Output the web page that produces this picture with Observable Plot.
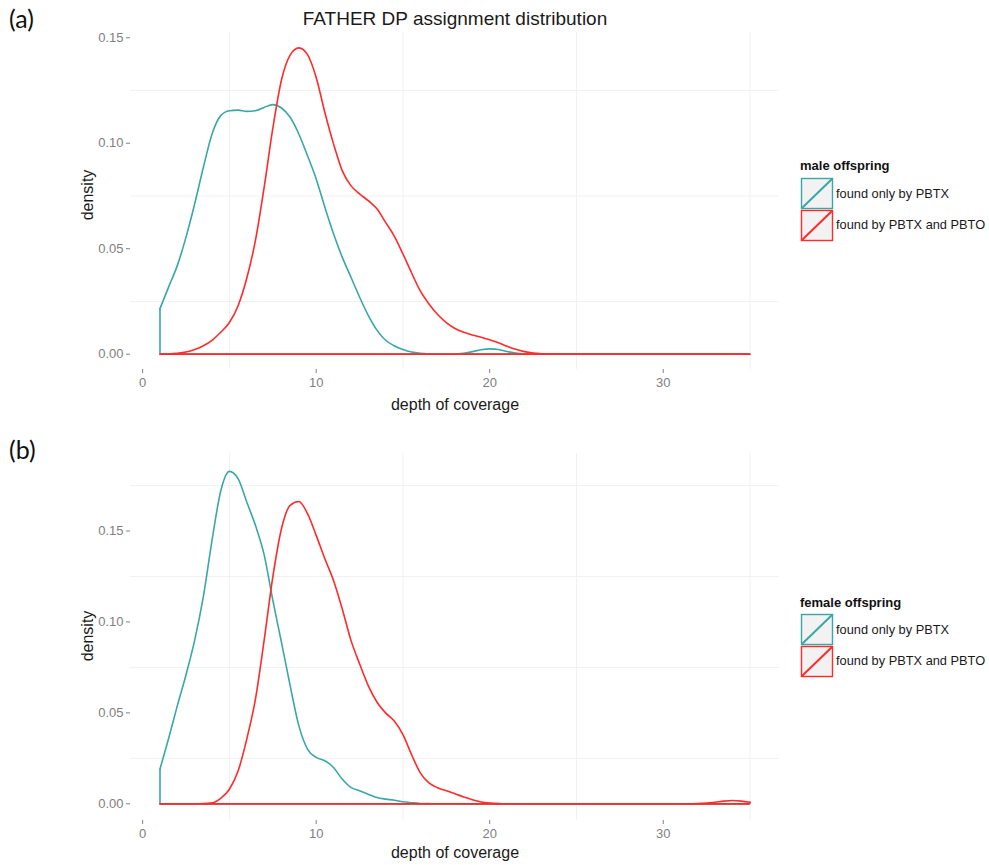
<!DOCTYPE html>
<html><head><meta charset="utf-8">
<script src="https://cdn.jsdelivr.net/npm/d3@7"></script>
<script src="https://cdn.jsdelivr.net/npm/@observablehq/plot@0.6"></script>
<style>
body{margin:0;background:#fff;font-family:"Liberation Sans",Arial,sans-serif;}
#root{position:relative;width:989px;height:865px;overflow:hidden;background:#fff;}
.abs{position:absolute;white-space:nowrap;line-height:1;}
.panel{position:absolute;left:0;}
.tag{font-family:Lato,"Open Sans",sans-serif;font-size:25px;color:#111;}
.title{font-size:19px;color:#1a1a1a;transform:translate(-50%,-50%);}
.axt{font-size:16px;color:#1a1a1a;transform:translate(-50%,-50%);}
.axy{font-size:16px;color:#1a1a1a;transform:translate(-50%,-50%) rotate(-90deg);}
.lt{font-size:13px;font-weight:bold;color:#111;transform:translateY(-50%);}
.ll{font-size:12.8px;color:#1a1a1a;transform:translateY(-50%);}
</style></head><body><div id="root"></div>
<script>
// ---- data ----
const depth = [1,1.5,2,2.5,3,3.5,4,4.5,5,5.5,6,6.5,7,7.5,8,8.5,9,9.5,10,10.5,11,11.5,12,12.5,13,13.5,14,14.5,15,15.5,16,16.5,17,17.5,18,18.5,19,19.5,20,20.5,21,21.5,22,22.5,23,23.5,24,24.5,25,25.5,26,26.5,27,27.5,28,28.5,29,29.5,30,30.5,31,31.5,32,32.5,33,33.5,34,34.5,35];

const maleOnly = [0.0216,0.0319,0.0421,0.0555,0.0713,0.0886,0.1044,0.1131,0.1154,0.1157,0.1151,0.1154,0.1170,0.1183,0.1167,0.1123,0.1044,0.0941,0.0831,0.0697,0.0571,0.0460,0.0366,0.0271,0.0184,0.0114,0.0066,0.0040,0.0022,0.0010,0.0004,0.0001,0,0,0.0001,0.0004,0.0012,0.0021,0.0025,0.0022,0.0013,0.0005,0.0001,0,0,0,0,0,0,0,0,0,0,0,0,0,0,0,0,0,0,0,0,0,0,0,0,0,0];

const maleBoth = [0,0.0001,0.0004,0.0010,0.0022,0.0040,0.0066,0.0104,0.0150,0.0230,0.0360,0.0540,0.0790,0.1070,0.1300,0.1418,0.1452,0.1420,0.1312,0.1146,0.0997,0.0870,0.0799,0.0760,0.0728,0.0689,0.0625,0.0560,0.0475,0.0385,0.0300,0.0238,0.0188,0.0150,0.0122,0.0104,0.0091,0.0080,0.0068,0.0054,0.0038,0.0023,0.0012,0.0005,0.0002,0.0001,0,0,0,0,0,0,0,0,0,0,0,0,0,0,0,0,0,0,0,0,0,0,0];

const femaleOnly = [0.0191,0.0360,0.0540,0.0710,0.0900,0.1140,0.1450,0.1720,0.1828,0.1788,0.1659,0.1531,0.1370,0.1120,0.0888,0.0650,0.0430,0.0301,0.0255,0.0237,0.0200,0.0136,0.0090,0.0072,0.0053,0.0035,0.0026,0.0020,0.0011,0.0006,0.0002,0.0001,0,0,0,0,0,0,0,0,0,0,0,0,0,0,0,0,0,0,0,0,0,0,0,0,0,0,0,0,0,0,0,0,0,0,0,0,0];

const femaleBoth = [0,0,0,0,0,0.0001,0.0005,0.0030,0.0080,0.0180,0.0356,0.0576,0.0898,0.1246,0.1512,0.1641,0.1662,0.1595,0.1476,0.1347,0.1228,0.1072,0.0900,0.0770,0.0650,0.0560,0.0500,0.0455,0.0380,0.0270,0.0170,0.0115,0.0088,0.0072,0.0055,0.0038,0.0022,0.0010,0.0004,0.0001,0,0,0,0,0,0,0,0,0,0,0,0,0,0,0,0,0,0,0,0,0,0,0.0001,0.0004,0.0009,0.0015,0.0018,0.0015,0.0009];

const xTicks = [0, 10, 20, 30];
const yTicks = [0, 0.05, 0.10, 0.15];
const minorX = [5, 15, 25, 35];
const minorYA = [0.025, 0.075, 0.125];
const minorYB = [0.025, 0.075, 0.125, 0.175];
const seriesNames = ["found only by PBTX", "found by PBTX and PBTO"];
const colors = ["#3aa7a7", "#ff2a2a"];

const chartTitle = "FATHER DP assignment distribution";
const xLabel = "depth of coverage";
const yLabel = "density";

// ---- drawing ----
function densityMarks(values, color) {
  const rows = depth.map((x, i) => ({x, y: values[i]}));
  const first = rows[0], last = rows[rows.length - 1];
  return [
    Plot.ruleX([first, last], {x: "x", y1: 0, y2: "y", stroke: color, strokeWidth: 1.6}),
    Plot.ruleY([0], {x1: first.x, x2: last.x, stroke: color, strokeWidth: 1.8}),
    Plot.line(rows, {x: "x", y: "y", curve: "monotone-x", stroke: color, strokeWidth: 1.6})
  ];
}

function panel(only, both, yDomain, minorY, height, marginTop, marginBottom) {
  return Plot.plot({
    width: 790, height, marginLeft: 130, marginRight: 11, marginTop, marginBottom,
    x: {domain: [-0.7, 36.7], ticks: xTicks, tickFormat: d => String(d), tickSize: 4, tickPadding: 4, label: null},
    y: {domain: yDomain, ticks: yTicks, tickFormat: d3.format(".2f"), tickSize: 4, tickPadding: 3, label: null},
    style: {fontFamily: "Liberation Sans, Arial, sans-serif", fontSize: "13px", color: "#808080", background: "transparent", overflow: "visible"},
    marks: [
      Plot.ruleX(minorX, {stroke: "#f1f1f1", strokeWidth: 1}),
      Plot.ruleY(minorY, {stroke: "#f1f1f1", strokeWidth: 1}),
      ...densityMarks(only, colors[0]),
      ...densityMarks(both, colors[1])
    ]
  });
}

const root = document.getElementById("root");
function addDiv(cls, text, left, top) {
  const d = document.createElement("div");
  d.className = "abs " + cls;
  d.textContent = text;
  d.style.left = left + "px";
  d.style.top = top + "px";
  root.appendChild(d);
  return d;
}

const pa = panel(maleOnly, maleBoth, [-0.00726, 0.1525], minorYA, 420, 32, 51);
pa.classList.add("panel"); pa.style.top = "0px";
root.appendChild(pa);
const pb = panel(femaleOnly, femaleBoth, [-0.00917, 0.1926], minorYB, 425, 13, 45);
pb.classList.add("panel"); pb.style.top = "440px";
root.appendChild(pb);

addDiv("tag", "(a)", 9, 6);
addDiv("tag", "(b)", 9, 437);
addDiv("title", chartTitle, 455, 18);
addDiv("axt", xLabel, 455, 405);
addDiv("axt", xLabel, 455, 853);
addDiv("axy", yLabel, 88, 195);
addDiv("axy", yLabel, 88, 636);

function legend(titleText, titleY, boxTop) {
  addDiv("lt", titleText, 800, titleY);
  seriesNames.forEach((name, i) => {
    const top = boxTop + i * 31.5;
    const ns = "http://www.w3.org/2000/svg";
    const svg = document.createElementNS(ns, "svg");
    svg.setAttribute("width", 34); svg.setAttribute("height", 33);
    svg.style.position = "absolute";
    svg.style.left = "800px"; svg.style.top = (top - 1) + "px";
    const r = document.createElementNS(ns, "rect");
    r.setAttribute("x", 1.5); r.setAttribute("y", 1.5); r.setAttribute("width", 31); r.setAttribute("height", 30);
    r.setAttribute("fill", "#f2f2f2"); r.setAttribute("stroke", colors[i]); r.setAttribute("stroke-width", 1.4);
    svg.appendChild(r);
    const l = document.createElementNS(ns, "line");
    l.setAttribute("x1", 1.5); l.setAttribute("y1", 31.5); l.setAttribute("x2", 32.5); l.setAttribute("y2", 1.5);
    l.setAttribute("stroke", colors[i]); l.setAttribute("stroke-width", 2);
    svg.appendChild(l);
    root.appendChild(svg);
    addDiv("ll", name, 836, top + 15.5);
  });
}
legend("male offspring", 165, 178);
legend("female offspring", 602, 614);
</script>
</body></html>
